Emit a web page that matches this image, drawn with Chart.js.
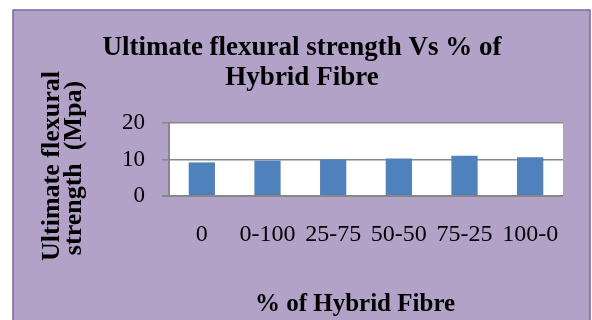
<!DOCTYPE html>
<html>
<head>
<meta charset="utf-8">
<script src="https://cdn.jsdelivr.net/npm/chart.js@4/dist/chart.umd.min.js"></script>
<style>
  html, body { margin: 0; padding: 0; background: #ffffff; }
  #chart { display: block; }
</style>
</head>
<body>
<canvas id="chart" width="592" height="320" style="width:592px;height:320px"></canvas>
<script>
const categories = ["0", "0-100", "25-75", "50-50", "75-25", "100-0"];
const strengthValues = [9.2, 9.7, 10.0, 10.3, 11.0, 10.6];
const yTicks = [0, 10, 20];

const chartTitle = ["Ultimate flexural strength Vs % of", "Hybrid Fibre"];
const yTitle = ["Ultimate flexural", "strength  (Mpa)"];
const xTitle = "% of Hybrid Fibre";

const SERIF = '"Liberation Serif", "Times New Roman", serif';

// frame, plot background and the titles (Excel style layout)
const framePlugin = {
  id: 'frame',
  beforeDraw(chart) {
    const { ctx, chartArea } = chart;
    ctx.save();
    ctx.fillStyle = '#ffffff';
    ctx.fillRect(0, 0, chart.width, chart.height);
    ctx.fillStyle = '#b3a2c7';
    ctx.fillRect(13, 10, 577, 320);
    ctx.strokeStyle = '#8064a2';
    ctx.lineWidth = 1.5;
    ctx.strokeRect(13, 10, 577, 320);
    ctx.fillStyle = '#ffffff';
    ctx.fillRect(chartArea.left, chartArea.top, chartArea.right - chartArea.left, chartArea.bottom - chartArea.top);
    ctx.restore();
  },
  afterDraw(chart) {
    const { ctx } = chart;
    ctx.save();
    ctx.fillStyle = '#000000';
    ctx.textAlign = 'center';
    ctx.textBaseline = 'alphabetic';

    ctx.font = 'bold 27px ' + SERIF;
    ctx.fillText(chartTitle[0], 302, 55);
    ctx.fillText(chartTitle[1], 302, 85);

    ctx.font = 'bold 25px ' + SERIF;
    ctx.fillText(xTitle, 355, 311);

    ctx.font = 'bold 26px ' + SERIF;
    [[59, 166], [81, 168]].forEach(([x, y], i) => {
      ctx.save();
      ctx.translate(x, y);
      ctx.rotate(-Math.PI / 2);
      ctx.fillText(yTitle[i], 0, 0);
      ctx.restore();
    });
    ctx.restore();
  }
};

new Chart(document.getElementById('chart'), {
  type: 'bar',
  data: {
    labels: categories,
    datasets: [{
      label: 'Ultimate flexural strength',
      data: strengthValues,
      backgroundColor: '#4f81bd',
      borderWidth: 0,
      barPercentage: 0.4,
      categoryPercentage: 1
    }]
  },
  options: {
    responsive: false,
    devicePixelRatio: 1,
    animation: false,
    layout: { padding: { top: 123, left: 0, right: 29, bottom: 0 } },
    plugins: {
      legend: { display: false },
      title: { display: false },
      tooltip: { enabled: false }
    },
    scales: {
      x: {
        grid: { display: false, drawTicks: false },
        border: { display: false },
        ticks: {
          padding: 24,
          color: '#000000',
          font: { family: SERIF, size: 24 },
          maxRotation: 0,
          autoSkip: false
        },
        afterFit: s => { s.height = 124; }
      },
      y: {
        min: 0,
        max: 20,
        afterBuildTicks: s => { s.ticks = yTicks.map(v => ({ value: v })); },
        grid: {
          color: '#878787',
          lineWidth: c => (c.tick && c.tick.value === 0 ? 2 : 1.5),
          tickLength: 7
        },
        border: { display: true, color: '#878787', width: 2 },
        ticks: {
          padding: 17,
          color: '#000000',
          font: { family: SERIF, size: 23 }
        },
        afterFit: s => { s.width = 169; }
      }
    }
  },
  plugins: [framePlugin]
});
</script>
</body>
</html>
